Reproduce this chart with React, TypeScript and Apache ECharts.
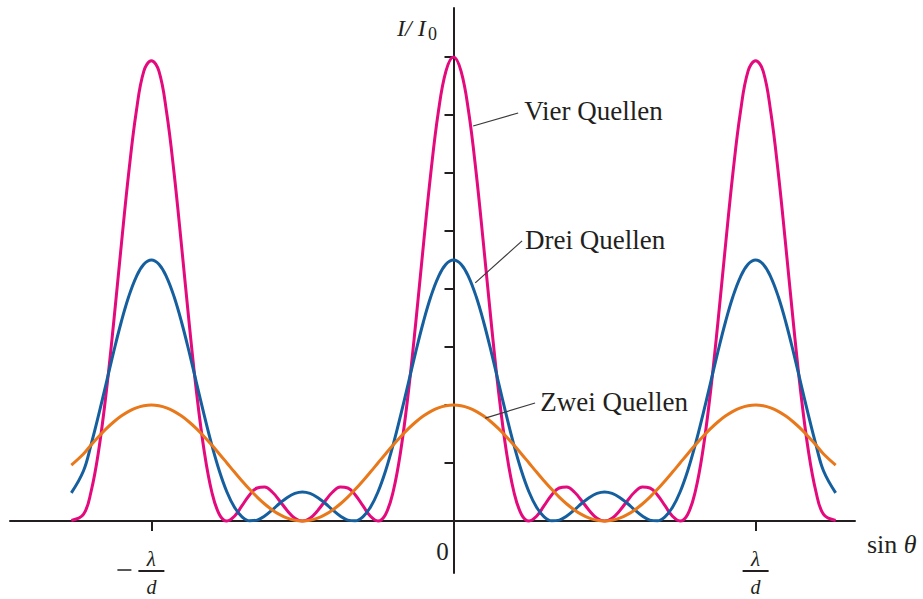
import React, { useEffect, useRef } from "react";
import * as echarts from "echarts";

// sin θ positions (in units of λ/d)
const xs = [
  -1.265, -1.225, -1.2, -1.175, -1.15, -1.125, -1.1, -1.075, -1.05, -1.025,
  -1,
  -0.975, -0.95, -0.925, -0.9, -0.875, -0.85, -0.825, -0.8, -0.775, -0.75,
  -0.725, -0.7, -0.675, -0.65, -0.625, -0.6, -0.575, -0.55, -0.525, -0.5,
  -0.475, -0.45, -0.425, -0.4, -0.375, -0.35, -0.325, -0.3, -0.275, -0.25,
  -0.225, -0.2, -0.175, -0.15, -0.125, -0.1, -0.075, -0.05, -0.025,
  0,
  0.025, 0.05, 0.075, 0.1, 0.125, 0.15, 0.175, 0.2, 0.225, 0.25,
  0.275, 0.3, 0.325, 0.35, 0.375, 0.4, 0.425, 0.45, 0.475, 0.5,
  0.525, 0.55, 0.575, 0.6, 0.625, 0.65, 0.675, 0.7, 0.725, 0.75,
  0.775, 0.8, 0.825, 0.85, 0.875, 0.9, 0.925, 0.95, 0.975,
  1,
  1.025, 1.05, 1.075, 1.1, 1.125, 1.15, 1.175, 1.2, 1.225, 1.265,
];

// I / I0 for two sources
const zwei = [
  1.93, 2.313, 2.618, 2.908, 3.176, 3.414, 3.618, 3.782, 3.902, 3.975,
  4,
  3.975, 3.902, 3.782, 3.618, 3.414, 3.176, 2.908, 2.618, 2.313, 2.0,
  1.687, 1.382, 1.092, 0.824, 0.586, 0.382, 0.218, 0.098, 0.025, 0,
  0.025, 0.098, 0.218, 0.382, 0.586, 0.824, 1.092, 1.382, 1.687, 2.0,
  2.313, 2.618, 2.908, 3.176, 3.414, 3.618, 3.782, 3.902, 3.975,
  4,
  3.975, 3.902, 3.782, 3.618, 3.414, 3.176, 2.908, 2.618, 2.313, 2.0,
  1.687, 1.382, 1.092, 0.824, 0.586, 0.382, 0.218, 0.098, 0.025, 0,
  0.025, 0.098, 0.218, 0.382, 0.586, 0.824, 1.092, 1.382, 1.687, 2.0,
  2.313, 2.618, 2.908, 3.176, 3.414, 3.618, 3.782, 3.902, 3.975,
  4,
  3.975, 3.902, 3.782, 3.618, 3.414, 3.176, 2.908, 2.618, 2.313, 1.93,
];

// I / I0 for three sources
const drei = [
  0.97, 1.724, 2.618, 3.64, 4.733, 5.828, 6.854, 7.74, 8.422, 8.853,
  9,
  8.853, 8.422, 7.74, 6.854, 5.828, 4.733, 3.64, 2.618, 1.724, 1.0,
  0.472, 0.146, 0.008, 0.031, 0.172, 0.382, 0.612, 0.814, 0.951, 1.0,
  0.951, 0.814, 0.612, 0.382, 0.172, 0.031, 0.008, 0.146, 0.472, 1.0,
  1.724, 2.618, 3.64, 4.733, 5.828, 6.854, 7.74, 8.422, 8.853,
  9,
  8.853, 8.422, 7.74, 6.854, 5.828, 4.733, 3.64, 2.618, 1.724, 1.0,
  0.472, 0.146, 0.008, 0.031, 0.172, 0.382, 0.612, 0.814, 0.951, 1.0,
  0.951, 0.814, 0.612, 0.382, 0.172, 0.031, 0.008, 0.146, 0.472, 1.0,
  1.724, 2.618, 3.64, 4.733, 5.828, 6.854, 7.74, 8.422, 8.853,
  9,
  8.853, 8.422, 7.74, 6.854, 5.828, 4.733, 3.64, 2.618, 1.724, 0.97,
];

// I / I0 for four sources
const vier = [
  0.02, 0.226, 1.0, 2.397, 4.389, 6.828, 9.472, 12.01, 14.118, 15.512,
  15.87,
  15.512, 14.118, 12.01, 9.472, 6.828, 4.389, 2.397, 1.0, 0.226, 0,
  0.165, 0.528, 0.9, 1.139, 1.172, 1.0, 0.692, 0.354, 0.096, 0,
  0.096, 0.354, 0.692, 1.0, 1.172, 1.139, 0.9, 0.528, 0.165, 0,
  0.226, 1.0, 2.397, 4.389, 6.828, 9.472, 12.01, 14.118, 15.512,
  16,
  15.512, 14.118, 12.01, 9.472, 6.828, 4.389, 2.397, 1.0, 0.226, 0,
  0.165, 0.528, 0.9, 1.139, 1.172, 1.0, 0.692, 0.354, 0.096, 0,
  0.096, 0.354, 0.692, 1.0, 1.172, 1.139, 0.9, 0.528, 0.165, 0,
  0.226, 1.0, 2.397, 4.389, 6.828, 9.472, 12.01, 14.118, 15.512,
  15.87,
  15.512, 14.118, 12.01, 9.472, 6.828, 4.389, 2.397, 1.0, 0.226, 0.02,
];

const xLabelValues = [-1, 0, 1];
const xTickValues = [-1, 1];
const yTickValues = [2, 4, 6, 8, 10, 12, 14, 16];

const annotLabels = ["Vier Quellen", "Drei Quellen", "Zwei Quellen"];
const leaderStartX = [0.065, 0.072, 0.105];
const leaderStartY = [13.62, 8.21, 3.55];
const leaderEndX = [0.214, 0.227, 0.27];
const leaderEndY = [14.07, 9.66, 4.07];
const labelX = [0.234, 0.237, 0.287];
const labelY = [14.14, 9.69, 4.12];

const SERIF = '"Liberation Serif", "Times New Roman", serif';
const AXIS_COLOR = "#231f20";
const TEXT_COLOR = "#231f20";

export default function App() {
  const ref = useRef<HTMLDivElement>(null);

  useEffect(() => {
    if (!ref.current) return;
    const chart = echarts.init(ref.current, undefined, { renderer: "svg" });

    const mk = (arr: number[]) => xs.map((x, i) => [x, arr[i]]);

    const option: any = {
      animation: false,
      backgroundColor: "#ffffff",
      grid: { left: 10, right: 68, top: 8, bottom: 26 },
      xAxis: {
        type: "value",
        min: -1.468,
        max: 1.329,
        axisLine: { show: true, onZero: true, lineStyle: { color: AXIS_COLOR, width: 2 } },
        axisTick: {
          show: true,
          customValues: xTickValues,
          length: 10,
          lineStyle: { color: AXIS_COLOR, width: 2 },
        },
        axisLabel: { show: false },
        splitLine: { show: false },
      },
      yAxis: {
        type: "value",
        min: -1.793,
        max: 17.69,
        axisLine: { show: true, onZero: true, lineStyle: { color: AXIS_COLOR, width: 2 } },
        axisTick: {
          show: true,
          customValues: yTickValues,
          length: 9,
          lineStyle: { color: AXIS_COLOR, width: 2 },
        },
        axisLabel: { show: false },
        splitLine: { show: false },
      },
      graphic: [
        {
          type: "text",
          x: 397,
          y: 27.5,
          style: {
            text: "I/ I",
            fontSize: 24,
            fontFamily: SERIF,
            fontStyle: "italic",
            fill: TEXT_COLOR,
            align: "left",
            textAlign: "left",
            verticalAlign: "middle",
            textVerticalAlign: "middle",
          },
        },
        {
          type: "text",
          x: 428,
          y: 34,
          style: {
            text: "0",
            fontSize: 18,
            fontFamily: SERIF,
            fill: TEXT_COLOR,
            align: "left",
            textAlign: "left",
            verticalAlign: "middle",
            textVerticalAlign: "middle",
          },
        },
        {
          type: "text",
          x: 867,
          y: 544,
          style: {
            text: "{r|sin }{i|θ}",
            rich: {
              r: { fontSize: 26, fontFamily: SERIF, fill: TEXT_COLOR, color: TEXT_COLOR },
              i: { fontSize: 26, fontFamily: SERIF, fontStyle: "italic", fill: TEXT_COLOR, color: TEXT_COLOR },
            },
            fill: TEXT_COLOR,
            align: "left",
            textAlign: "left",
            verticalAlign: "middle",
            textVerticalAlign: "middle",
          },
        },
      ],
      series: [
        {
          name: "Vier Quellen",
          type: "line",
          data: mk(vier),
          smooth: 0.4,
          showSymbol: false,
          silent: true,
          lineStyle: { color: "#e4097c", width: 3 },
          z: 2,
        },
        {
          name: "Drei Quellen",
          type: "line",
          data: mk(drei),
          smooth: 0.4,
          showSymbol: false,
          silent: true,
          lineStyle: { color: "#155f9f", width: 3 },
          z: 3,
        },
        {
          name: "Zwei Quellen",
          type: "line",
          data: mk(zwei),
          smooth: 0.4,
          showSymbol: false,
          silent: true,
          lineStyle: { color: "#e8781a", width: 3 },
          z: 4,
        },
        {
          type: "custom",
          silent: true,
          clip: false,
          z: 5,
          data: xLabelValues.map((v) => [v, 0]),
          renderItem: (params: any, api: any) => {
            const v = api.value(0);
            const p = api.coord([v, 0]);
            const txt = (t: string, x: number, y: number, size: number, italic: boolean) => ({
              type: "text",
              x,
              y,
              style: {
                text: t,
                fontSize: size,
                lineHeight: Math.round(size * 0.85),
                fontFamily: SERIF,
                fontStyle: italic ? "italic" : "normal",
                fill: TEXT_COLOR,
                align: "center",
                textAlign: "center",
                verticalAlign: "middle",
                textVerticalAlign: "middle",
              },
            });
            if (v === 0) {
              return txt("0", p[0] - 11, p[1] + 30, 25, false);
            }
            const children: any[] = [
              txt("λ", p[0], p[1] + 38, 21, true),
              {
                type: "line",
                shape: { x1: p[0] - 13, y1: p[1] + 50, x2: p[0] + 13, y2: p[1] + 50 },
                style: { stroke: TEXT_COLOR, lineWidth: 2 },
              },
              txt("d", p[0], p[1] + 65.5, 20, true),
            ];
            if (v < 0) {
              children.push({
                type: "line",
                shape: { x1: p[0] - 34, y1: p[1] + 49, x2: p[0] - 20, y2: p[1] + 49 },
                style: { stroke: TEXT_COLOR, lineWidth: 1.5 },
              });
            }
            return { type: "group", children };
          },
        },
        {
          type: "custom",
          silent: true,
          clip: false,
          z: 6,
          data: annotLabels.map((_, i) => [
            leaderStartX[i],
            leaderStartY[i],
            leaderEndX[i],
            leaderEndY[i],
            labelX[i],
            labelY[i],
          ]),
          renderItem: (params: any, api: any) => {
            const a = api.coord([api.value(0), api.value(1)]);
            const b = api.coord([api.value(2), api.value(3)]);
            const t = api.coord([api.value(4), api.value(5)]);
            return {
              type: "group",
              children: [
                {
                  type: "line",
                  shape: { x1: a[0], y1: a[1], x2: b[0], y2: b[1] },
                  style: { stroke: "#3a3a3a", lineWidth: 1.2 },
                },
                {
                  type: "text",
                  x: t[0],
                  y: t[1],
                  style: {
                    text: annotLabels[params.dataIndex],
                    fontSize: 27,
                    fontFamily: SERIF,
                    fill: TEXT_COLOR,
                    align: "left",
                    textAlign: "left",
                    verticalAlign: "middle",
                    textVerticalAlign: "middle",
                  },
                },
              ],
            };
          },
        },
      ],
    };

    chart.setOption(option);
    return () => {
      chart.dispose();
    };
  }, []);

  return (
    <div
      ref={ref}
      style={{ position: "fixed", left: 0, top: 0, width: 923, height: 599, background: "#fff" }}
    />
  );
}
